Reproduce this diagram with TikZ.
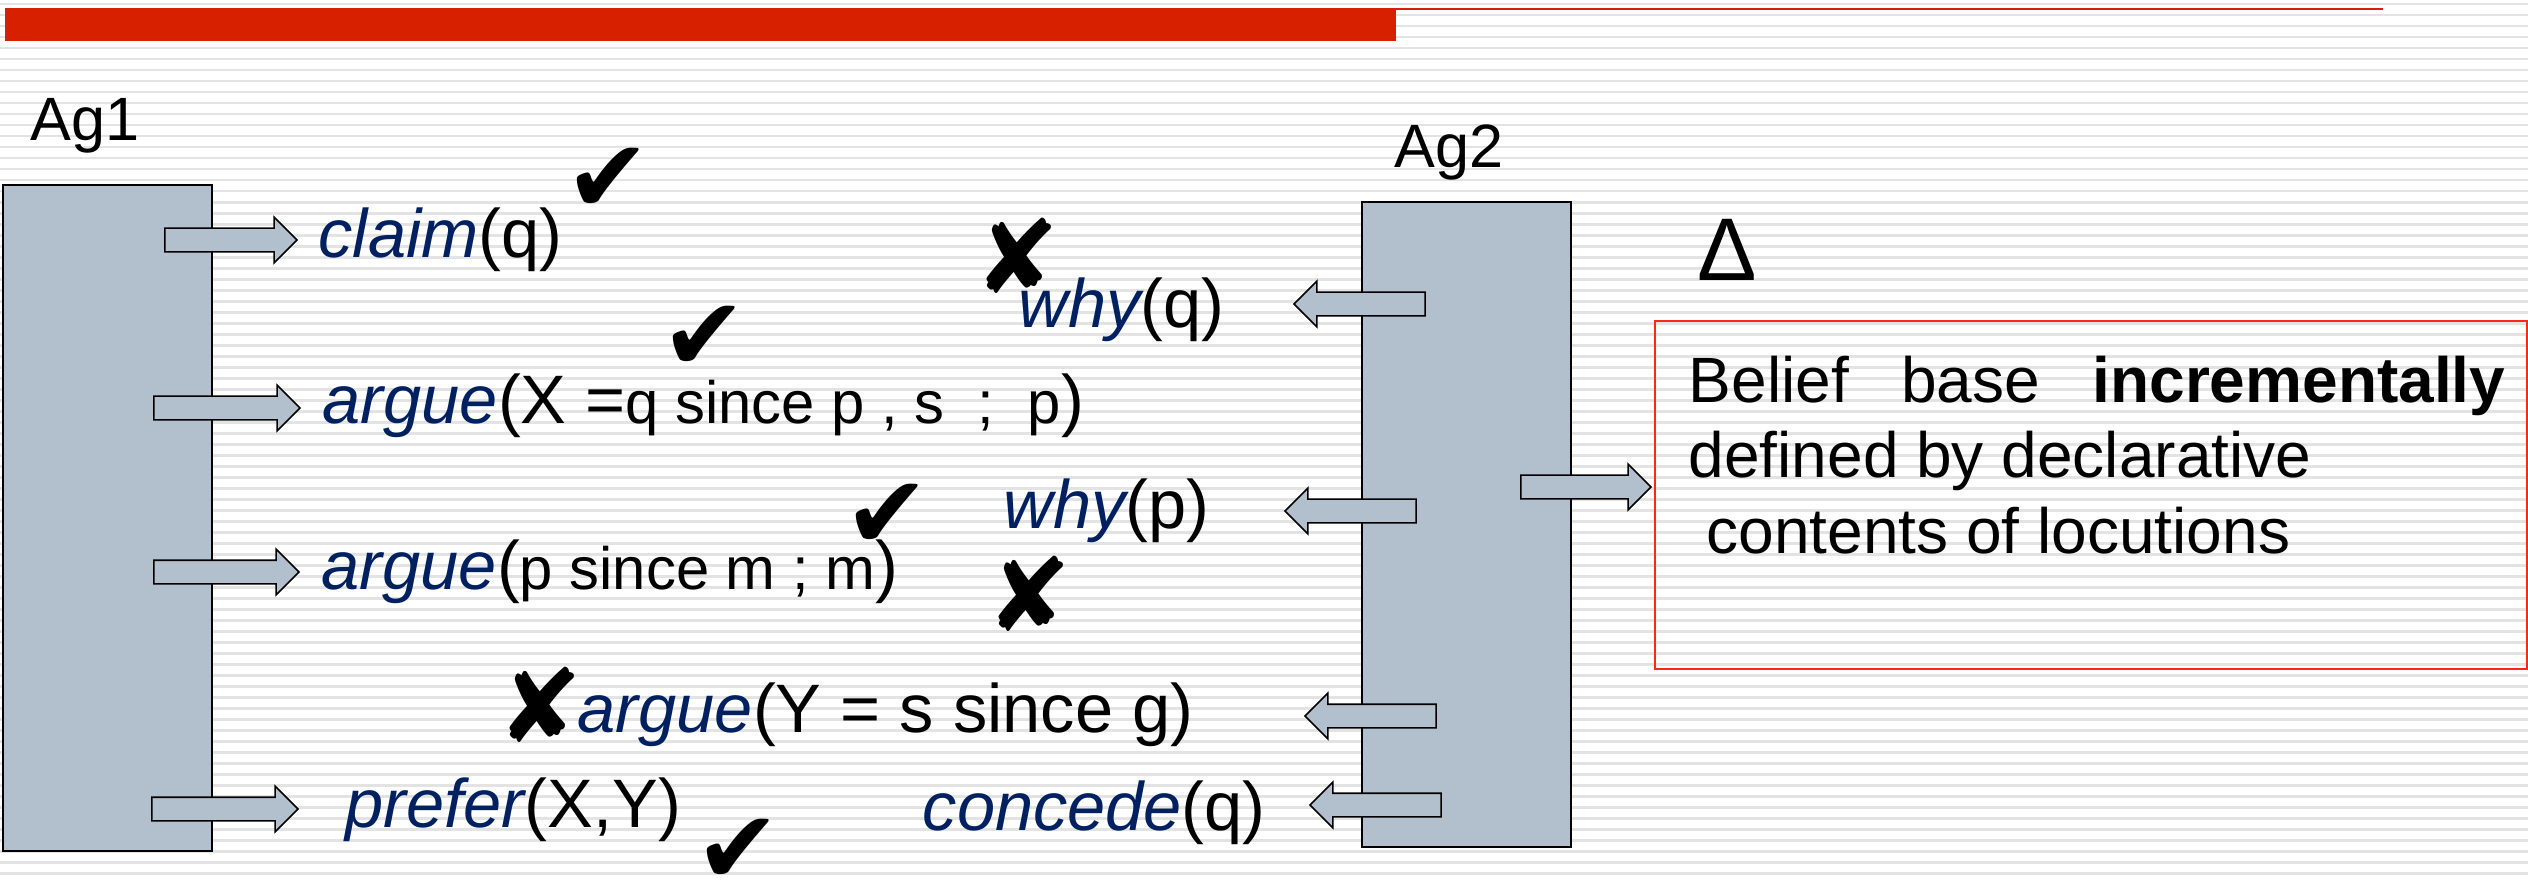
\documentclass[tikz,border=0pt]{standalone}
\usepackage{fontspec}
\setmainfont{Liberation Sans}
\newfontfamily\markfont{DejaVu Sans}
\usepackage{tikz}
\usetikzlibrary{shapes.arrows}
\usetikzlibrary{positioning}

\definecolor{agentFill}{RGB}{178,191,204}
\definecolor{titleRed}{RGB}{214,32,0}
\definecolor{boxRed}{RGB}{250,40,20}
\definecolor{msgBlue}{RGB}{0,32,96}
\definecolor{stripeGray}{RGB}{227,227,227}

\newcommand{\msg}[2]{\textcolor{msgBlue}{\itshape #1}(#2)}
\newcommand{\smallpart}[1]{{\fontsize{17}{20}\selectfont #1}}

\begin{document}
\begin{tikzpicture}[
  x=0.01cm, y=-0.01cm,
  agentBox/.style={draw=black, line width=0.5pt, fill=agentFill, inner sep=0pt, minimum width=2.09cm},
  blockArrow/.style={single arrow, draw=black, line width=0.45pt, fill=agentFill,
    inner xsep=0pt, inner ysep=0.11cm, minimum width=0pt, single arrow head extend=0.11cm, minimum height=#1},
  msgText/.style={anchor=base west, inner sep=0pt, font=\fontsize{19.5}{23}\selectfont},
  agLabel/.style={anchor=base west, inner sep=0pt, font=\fontsize{17.4}{21}\selectfont},
  beliefText/.style={anchor=base west, inner sep=0pt, font=\fontsize{18.2}{22}\selectfont},
  okMark/.style={inner sep=0pt, font=\fontsize{29}{32}\markfont},
  noMark/.style={inner sep=0pt, font=\fontsize{29}{32}\markfont},
]

\useasboundingbox (0,0) rectangle (2528,882);

% --- background stripes ---
\foreach \k in {0,...,79} {
  \fill[stripeGray] (0,{3+11*\k}) rectangle (2528,{5.5+11*\k});
}

% --- title bar ---
\fill[titleRed] (5,8) rectangle (1396,41);
\draw[titleRed, line width=0.018cm] (1396,9) -- (2383,9);

% --- agents ---
\node[agentBox, minimum height=6.66cm] (ag1Box) at (107.5,518) {};
\node[agentBox, minimum height=6.45cm] (ag2Box) at (1466.5,524.5) {};
\node[agLabel] (ag1Label) at (30,140) {Ag1};
\node[agLabel] (ag2Label) at (1394,167) {Ag2};

% --- belief base ---
\node[draw=boxRed, line width=0.02cm, minimum width=8.72cm, minimum height=3.48cm, inner sep=0pt]
  (beliefBox) at (2091,495) {};
\node[inner sep=0pt, font=\fontsize{25.3}{30}\selectfont] (deltaLabel) at (1727,250) {Δ};
\node[beliefText] (beliefLine1) at (1688,402) {\makebox[8.16cm][s]{Belief base \textbf{incrementally}}};
\node[beliefText] (beliefLine2) at (1688,477) {defined by declarative};
\node[beliefText] (beliefLine3) at (1706,553) {contents of locutions};

% --- Ag1 arrows ---
\node[blockArrow=1.32cm] (claimArrow) at (225,240) {};
\node[blockArrow=1.46cm] (argueXArrow) at (221,408) {};
\node[blockArrow=1.45cm] (arguePArrow) at (220.5,572) {};
\node[blockArrow=1.46cm] (preferArrow) at (219,809) {};

% --- Ag2 arrows ---
\node[blockArrow=1.31cm, shape border rotate=180] (whyQArrow) at (1365.5,304) {};
\node[blockArrow=1.31cm, shape border rotate=180] (whyPArrow) at (1356.5,511) {};
\node[blockArrow=1.31cm, shape border rotate=180] (argueYArrow) at (1376.5,716) {};
\node[blockArrow=1.31cm, shape border rotate=180] (concedeArrow) at (1381.5,805) {};
\node[blockArrow=1.30cm] (beliefArrow) at (1580,487) {};

% --- locutions ---
\node[msgText] (claimMsg) at (318,257) {\msg{claim}{q}};
\node[msgText] (argueXMsg) at (322,423) {\msg{argue}{X =\smallpart{q since p , s \ ; \ p}}};
\node[msgText] (whyQMsg) at (1018,327) {\msg{why}{q}};
\node[msgText] (whyPMsg) at (1003,528) {\msg{why}{p}};
\node[msgText] (arguePMsg) at (321,589) {\msg{argue}{\smallpart{p since m ; m}}};
\node[msgText] (argueYMsg) at (577,732) {\msg{argue}{Y = s since g}};
\node[msgText] (preferMsg) at (345,827) {\msg{prefer}{X,Y}};
\node[msgText] (concedeMsg) at (922,830) {\msg{concede}{q}};

% --- marks ---
\node[okMark] (claimOk) at (608,180) {✔};
\node[okMark] (argueXOk) at (704,338) {✔};
\node[noMark] (whyQNo) at (1017,256) {✘};
\node[okMark] (whyPOk) at (887,516) {✔};
\node[noMark] (arguePNo) at (1029,594) {✘};
\node[noMark] (argueYNo) at (540,705) {✘};
\node[okMark] (preferOk) at (738,851) {✔};

\end{tikzpicture}
\end{document}
